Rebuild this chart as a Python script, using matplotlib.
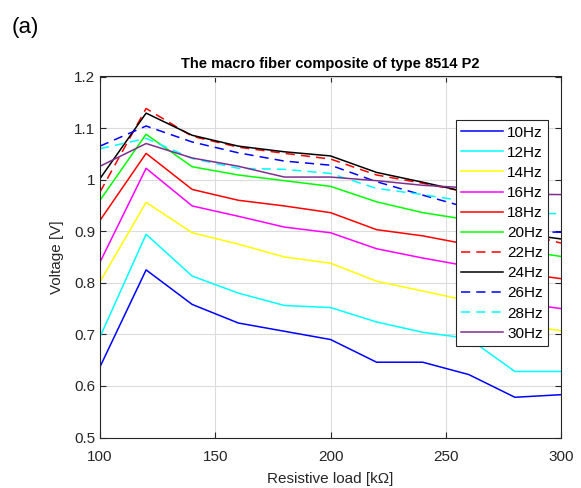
import matplotlib
matplotlib.use("Agg")
import matplotlib.pyplot as plt

plt.rcParams['font.family'] = ['Liberation Sans', 'DejaVu Sans']

# Resistive load values [kOhm]
load = [100, 120, 140, 160, 180, 200, 220, 240, 260, 280, 300]

# Output voltage [V] for each excitation frequency
v10 = [0.637, 0.825, 0.758, 0.722, 0.706, 0.690, 0.646, 0.646, 0.622, 0.578, 0.583]
v12 = [0.695, 0.894, 0.813, 0.780, 0.756, 0.752, 0.724, 0.704, 0.692, 0.628, 0.628]
v14 = [0.802, 0.956, 0.897, 0.875, 0.850, 0.838, 0.803, 0.784, 0.765, 0.720, 0.707]
v16 = [0.840, 1.022, 0.949, 0.929, 0.908, 0.897, 0.866, 0.848, 0.832, 0.762, 0.750]
v18 = [0.921, 1.051, 0.981, 0.960, 0.949, 0.936, 0.903, 0.891, 0.874, 0.820, 0.808]
v20 = [0.960, 1.088, 1.025, 1.009, 0.998, 0.987, 0.957, 0.936, 0.922, 0.865, 0.851]
v22 = [0.976, 1.138, 1.084, 1.063, 1.051, 1.040, 1.009, 0.993, 0.975, 0.900, 0.877]
v24 = [1.002, 1.129, 1.086, 1.065, 1.054, 1.046, 1.014, 0.995, 0.975, 0.897, 0.885]
v26 = [1.065, 1.104, 1.073, 1.052, 1.036, 1.028, 0.996, 0.970, 0.945, 0.900, 0.898]
v28 = [1.060, 1.080, 1.041, 1.022, 1.020, 1.012, 0.983, 0.971, 0.957, 0.935, 0.934]
v30 = [1.026, 1.070, 1.042, 1.026, 1.005, 1.005, 0.998, 0.989, 0.984, 0.972, 0.971]

labels = ['10Hz', '12Hz', '14Hz', '16Hz', '18Hz', '20Hz',
          '22Hz', '24Hz', '26Hz', '28Hz', '30Hz']
series = [v10, v12, v14, v16, v18, v20, v22, v24, v26, v28, v30]
colors = ['#0000ff', '#00ffff', '#ffff00', '#ff00ff', '#ff0000', '#00ff00',
          '#ff0000', '#000000', '#0000ff', '#00ffff', '#7e2f8e']
styles = ['-', '-', '-', '-', '-', '-', '--', '-', '--', '--', '-']

fig = plt.figure(figsize=(5.81, 4.88), dpi=100)
ax = fig.add_axes([100 / 581, 1 - 437.5 / 488, 461 / 581, 361 / 488])

for vals, lab, col, ls in zip(series, labels, colors, styles):
    ax.plot(load, vals, color=col, linestyle=ls, linewidth=1.1, label=lab,
            dashes=(6, 4) if ls == '--' else (None, None))

ax.set_xlim(100, 300)
ax.set_ylim(0.5, 1.2)
ax.set_xticks([100, 150, 200, 250, 300])
ax.set_yticks([0.5, 0.6, 0.7, 0.8, 0.9, 1.0, 1.1, 1.2])
ax.set_yticklabels(['0.5', '0.6', '0.7', '0.8', '0.9', '1', '1.1', '1.2'])
ax.grid(True, color='#dcdcdc', linewidth=0.8)
ax.set_axisbelow(True)
ax.tick_params(direction='in', top=True, right=True, length=4, width=0.8,
               labelsize=11, colors='#262626', labelcolor='#262626')
ax.tick_params(axis='x', pad=9)
for sp in ax.spines.values():
    sp.set_color('#262626')
    sp.set_linewidth(0.8)

ax.set_xlabel('Resistive load [k\u03a9]', fontsize=11, color='#262626', labelpad=6)
ax.set_ylabel('Voltage [V]', fontsize=11, color='#262626', labelpad=7)
ax.set_title('The macro fiber composite of type 8514 P2', fontsize=10.5,
             fontweight='bold', pad=6)

leg = ax.legend(loc='upper right', bbox_to_anchor=(0.972, 0.879),
                borderaxespad=0, fontsize=11, handlelength=2.7,
                handletextpad=0.3, labelspacing=0.40, borderpad=0.35,
                fancybox=False, framealpha=1, edgecolor='#262626')
leg.get_frame().set_linewidth(0.8)

fig.text(12 / 581, 1 - 27 / 488, '(a)', fontsize=16, va='center', ha='left')

fig.savefig('out.png', dpi=100)
